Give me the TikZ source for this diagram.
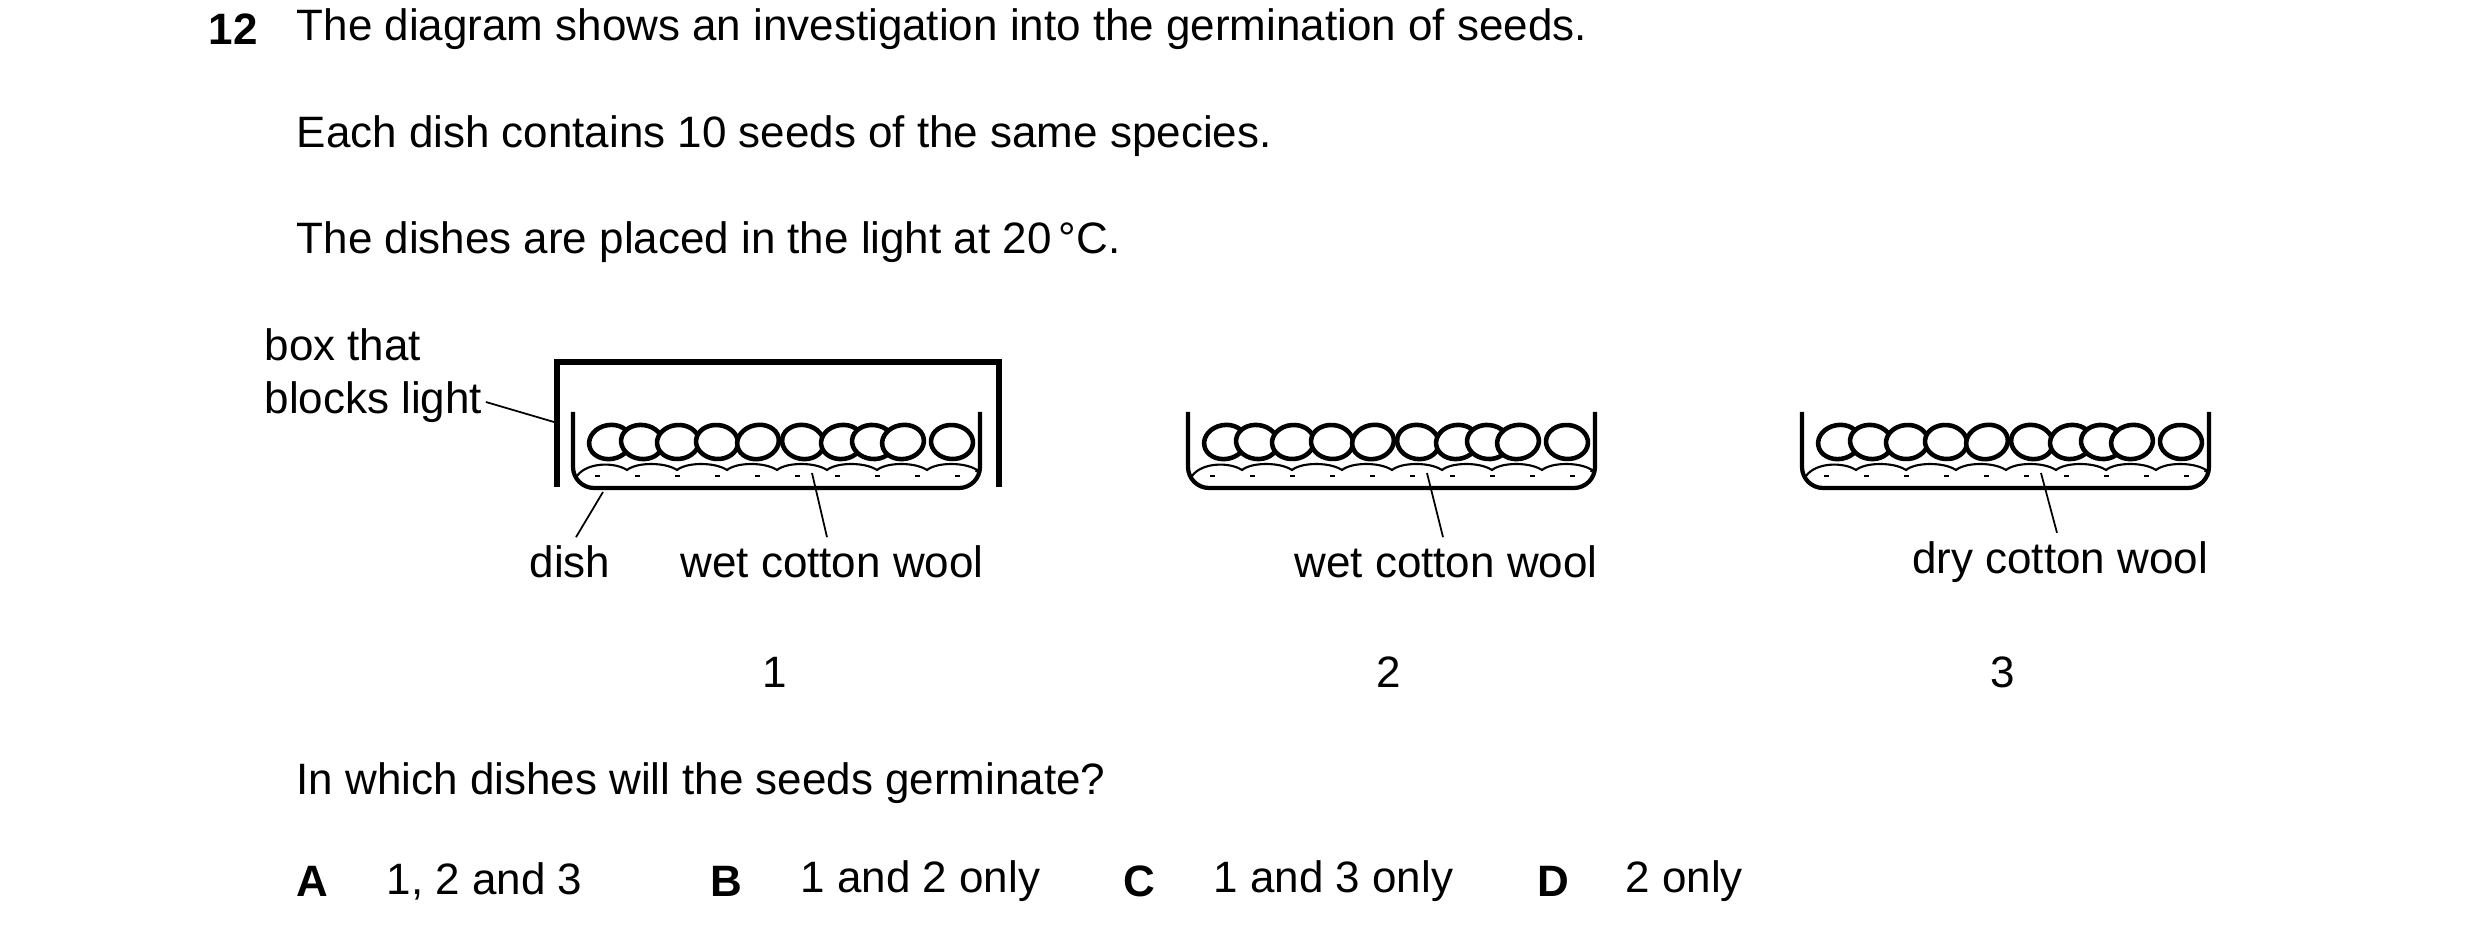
\documentclass[tikz,border=0pt]{standalone}
\usepackage{fontspec}
\setmainfont{Liberation Sans}
\usetikzlibrary{positioning}
\tikzset{
  txt/.style={anchor=west,inner sep=0pt,font=\fontsize{12.5}{15}\selectfont},
  lbl/.style={inner sep=0pt,font=\fontsize{12.5}{15}\selectfont},
  leader/.style={line width=0.5pt},
  seed/.style={draw,fill=white,line width=1.3pt},
  pics/dish/.style={code={
    % cotton wool
    \draw[line width=0.6pt] (4,64) \foreach \i in {0,...,7} {.. controls (4+\i*50+10,50) and (4+\i*50+38,50) .. (4+\i*50+50,58)} -- (403,60);
    \foreach \i in {0,...,9} {\draw[line width=0.5pt] (22+\i*40,64) -- (27+\i*40,64);}
    % seeds
    \foreach \sx/\r in {37/10,69/-8,105/5,144/-5,185/12,230/-10,269/8,300/-6,330/10,379/-4}
      {\draw[seed,rotate around={\r:(\sx,30)}] (\sx,30) ellipse (21 and 17);}
    % dish
    \draw[line width=1.2pt,rounded corners=6] (0,0) -- (0,76) -- (407,76) -- (407,0);
  }}
}
\begin{document}
\begin{tikzpicture}[x=0.01cm,y=-0.01cm]
  \useasboundingbox (0,0) rectangle (2480,946);

  \node[txt,font=\fontsize{12.5}{15}\selectfont\bfseries] (qnum) at (208,29) {12};
  \node[txt] (line1) at (296,29) {The diagram shows an investigation into the germination of seeds.};
  \node[txt] (line2) at (296,136) {Each dish contains 10 seeds of the same species.};
  \node[txt] (line3) at (296,242) {The dishes are placed in the light at 20\,°C.};

  % box and dishes
  \draw[line width=1.5pt] (557,487) -- (557,362) -- (999,362) -- (999,487);
  \pic at (573,412) {dish};
  \pic at (1188,412) {dish};
  \pic at (1802,412) {dish};

  \node[txt] (boxa) at (264,345) {box that};
  \node[txt] (boxb) at (264,402) {blocks light};
  \coordinate (boxe) at (554,422);
  \draw[leader] (boxb.east) ++(3,0) -- (boxe);

  \node[lbl] (dishl) at (570,562) {dish};
  \node[lbl] (wet1) at (832,562) {wet cotton wool};
  \node[lbl] (wet2) at (1446,562) {wet cotton wool};
  \node[lbl] (dry3) at (2060,562) {dry cotton wool};
  \coordinate (dishe) at (603,492);
  \coordinate (wet1e) at (812,473);
  \coordinate (wet2e) at (1427,473);
  \coordinate (dry3e) at (2041,473);
  \draw[leader] (dishl.north) ++(6,-8) -- (dishe);
  \draw[leader] (wet1.north) ++(-5,-8) -- (wet1e);
  \draw[leader] (wet2.north) ++(-3,-8) -- (wet2e);
  \draw[leader] (dry3.north) ++(-3,-8) -- (dry3e);

  \node[lbl] (n1) at (775,672) {1};
  \node[lbl] (n2) at (1389,672) {2};
  \node[lbl] (n3) at (2003,672) {3};

  \node[txt] (quest) at (296,783) {In which dishes will the seeds germinate?};
  \node[txt,font=\fontsize{12.5}{15}\selectfont\bfseries] (optA) at (296,881) {A};
  \node[txt] (ansA) at (386,881) {1, 2 and 3};
  \node[txt,font=\fontsize{12.5}{15}\selectfont\bfseries] (optB) at (710,881) {B};
  \node[txt] (ansB) at (800,881) {1 and 2 only};
  \node[txt,font=\fontsize{12.5}{15}\selectfont\bfseries] (optC) at (1123,881) {C};
  \node[txt] (ansC) at (1213,881) {1 and 3 only};
  \node[txt,font=\fontsize{12.5}{15}\selectfont\bfseries] (optD) at (1537,881) {D};
  \node[txt] (ansD) at (1625,881) {2 only};
\end{tikzpicture}
\end{document}
